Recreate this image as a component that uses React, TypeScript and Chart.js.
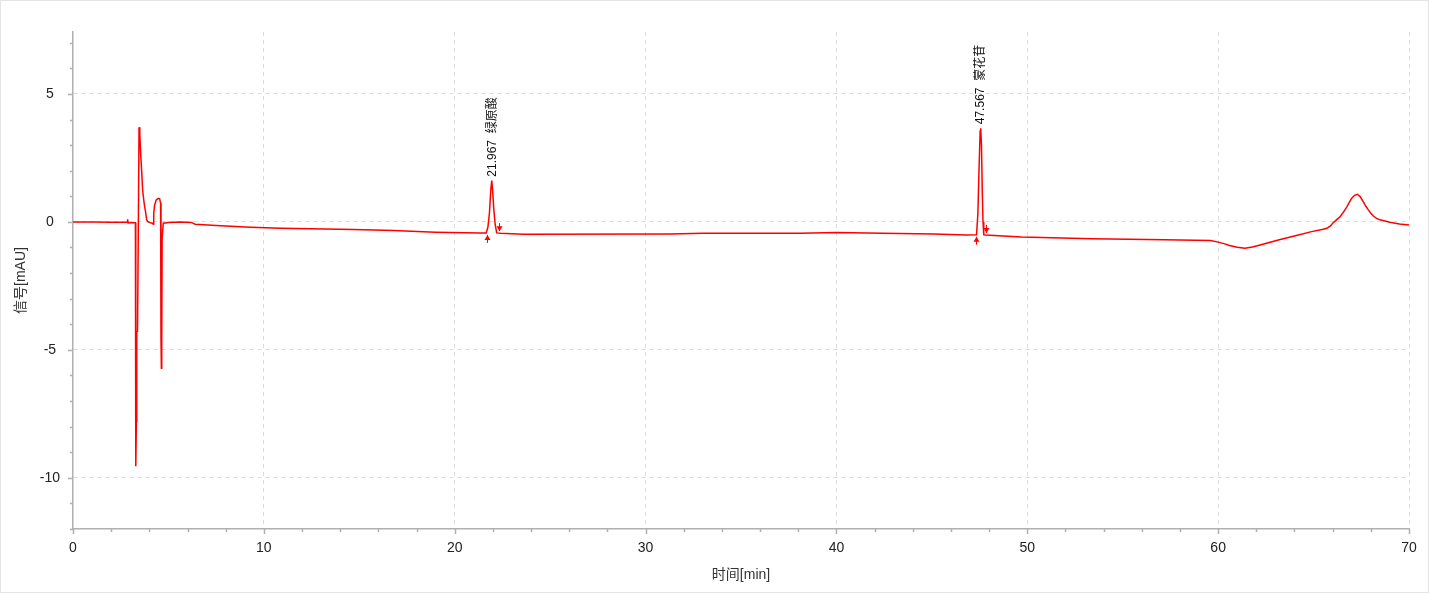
import React, { useEffect, useRef } from 'react';
import { Chart, registerables } from 'chart.js';

Chart.register(...registerables);

// Chromatogram trace (time in min, signal in mAU)
const timeMin = [
  0, 1.0, 2.0, 2.84, 2.86, 2.89, 3.0, 3.27, 3.28, 3.3, 3.32, 3.34, 3.38, 3.42, 3.46, 3.5, 3.55, 3.6, 3.65, 3.7,
  3.74, 3.8, 3.86, 3.92, 4.05, 4.16, 4.2, 4.23, 4.28, 4.36, 4.46, 4.54, 4.59, 4.61, 4.63, 4.65, 4.67, 4.73, 5.0, 5.6,
  6.2, 6.4, 7.5, 9.3, 10.9, 14.7, 16.8, 19.0, 21.3, 21.65, 21.74, 21.82, 21.89, 21.94, 21.99, 22.05, 22.12, 22.2, 22.4, 23.6,
  31.3, 33.0, 38.1, 40.0, 42.4, 45.1, 46.8, 47.34, 47.41, 47.47, 47.53, 47.56, 47.6, 47.64, 47.68, 47.72, 47.8, 49.7, 51.8, 53.4,
  57.2, 59.6, 60.0, 60.3, 60.6, 61.0, 61.4, 61.8, 62.2, 63.2, 64.1, 64.9, 65.5, 65.7, 65.9, 66.0, 66.2, 66.4, 66.6, 66.75,
  66.9, 67.0, 67.15, 67.29, 67.45, 67.6, 67.75, 67.87, 68.0, 68.13, 68.3, 68.48, 69.0, 69.5, 70.0,
];
const signalMAU = [
  0.0, 0.0, -0.01, -0.01, 0.1, -0.04, -0.03, -0.03, -7.8, -9.55, -7.8, -4.3, -4.28, -0.5, 3.7, 3.42, 2.6, 1.96, 1.22, 0.9,
  0.66, 0.4, 0.08, 0.01, -0.03, -0.05, -0.09, 0.34, 0.66, 0.86, 0.92, 0.9, 0.73, -4.48, -5.72, -4.48, -0.63, -0.05, -0.02, 0.0,
  -0.02, -0.09, -0.14, -0.21, -0.25, -0.3, -0.34, -0.4, -0.43, -0.43, -0.2, 0.35, 1.25, 1.61, 1.2, 0.47, -0.1, -0.43, -0.44, -0.48,
  -0.47, -0.44, -0.44, -0.41, -0.44, -0.47, -0.51, -0.5, 0.3, 2.0, 3.55, 3.66, 3.0, 1.25, 0.0, -0.5, -0.51, -0.59, -0.63, -0.66,
  -0.7, -0.73, -0.79, -0.85, -0.92, -0.99, -1.03, -0.98, -0.9, -0.7, -0.53, -0.38, -0.29, -0.25, -0.15, -0.05, 0.08, 0.21, 0.42, 0.6,
  0.8, 0.93, 1.04, 1.08, 0.98, 0.79, 0.6, 0.47, 0.34, 0.23, 0.14, 0.08, -0.01, -0.08, -0.12,
];

// Identified peaks
const peakTimes = [21.967, 47.567];
const peakHeights = [1.61, 3.66];
const peakNames = ['绿原酸', '蒙花苷'];

// Integration start/end markers
const markerTimes = [21.67, 22.33, 47.29, 47.83];
const markerSignals = [-0.43, -0.44, -0.5, -0.51];
const markerDirs = ['up', 'down', 'up', 'down'];

// Axis ticks
const xTicks = [0, 2, 4, 6, 8, 10, 12, 14, 16, 18, 20, 22, 24, 26, 28, 30, 32, 34, 36, 38, 40, 42, 44, 46, 48, 50, 52, 54, 56, 58, 60, 62, 64, 66, 68, 70];
const xMajorTicks = [0, 10, 20, 30, 40, 50, 60, 70];
const yTicks = [-12, -11, -10, -9, -8, -7, -6, -5, -4, -3, -2, -1, 0, 1, 2, 3, 4, 5, 6, 7];
const yMajorTicks = [-10, -5, 0, 5];

const xTitle = '时间[min]';
const yTitle = '信号[mAU]';

const FONT = '"Liberation Sans", Arial, "Noto Sans CJK SC", sans-serif';

const decorPlugin = {
  id: 'decor',
  afterDraw(chart: any) {
    const { ctx, chartArea, scales } = chart;
    const xs = scales.x;
    const ys = scales.y;
    ctx.save();
    // tick marks
    ctx.strokeStyle = '#b0b0b0';
    ctx.lineWidth = 1.5;
    ctx.beginPath();
    xTicks.forEach((v) => {
      const px = Math.round(xs.getPixelForValue(v)) + 0.5;
      const len = xMajorTicks.includes(v) ? 5 : 3;
      ctx.moveTo(px, chartArea.bottom);
      ctx.lineTo(px, chartArea.bottom + len);
    });
    yTicks.forEach((v) => {
      const py = Math.round(ys.getPixelForValue(v)) + 0.5;
      const len = yMajorTicks.includes(v) ? 5 : 3;
      ctx.moveTo(chartArea.left, py);
      ctx.lineTo(chartArea.left - len, py);
    });
    ctx.stroke();

    // peak labels
    ctx.fillStyle = '#111';
    ctx.font = '12px ' + FONT;
    ctx.textAlign = 'left';
    ctx.textBaseline = 'middle';
    peakTimes.forEach((t, i) => {
      const px = xs.getPixelForValue(t);
      const py = ys.getPixelForValue(peakHeights[i]) - 4;
      ctx.save();
      ctx.translate(px, py);
      ctx.rotate(-Math.PI / 2);
      ctx.fillText(t.toFixed(3) + '  ' + peakNames[i], 0, 0);
      ctx.restore();
    });

    // markers
    ctx.strokeStyle = '#ff0000';
    ctx.fillStyle = '#ff0000';
    ctx.lineWidth = 1;
    markerTimes.forEach((t, i) => {
      const px = Math.round(xs.getPixelForValue(t)) + 0.5;
      const py = ys.getPixelForValue(markerSignals[i]);
      const dir = markerDirs[i] === 'up' ? 1 : -1;
      const tip = py + dir * 2;
      const tail = py + dir * 10;
      ctx.beginPath();
      ctx.moveTo(px, tip);
      ctx.lineTo(px, tail);
      ctx.stroke();
      ctx.beginPath();
      ctx.moveTo(px, tip);
      ctx.lineTo(px - 3, tip + dir * 5);
      ctx.lineTo(px + 3, tip + dir * 5);
      ctx.closePath();
      ctx.fill();
    });

    // axis titles
    ctx.fillStyle = '#333';
    ctx.font = '14px ' + FONT;
    ctx.textAlign = 'center';
    ctx.textBaseline = 'middle';
    ctx.fillText(xTitle, (chartArea.left + chartArea.right) / 2, 574);
    ctx.save();
    ctx.translate(20, (chartArea.top + chartArea.bottom) / 2);
    ctx.rotate(-Math.PI / 2);
    ctx.fillText(yTitle, 0, 0);
    ctx.restore();
    ctx.restore();
  },
};

export default function App() {
  const ref = useRef<HTMLCanvasElement>(null);
  useEffect(() => {
    if (!ref.current) return;
    const chart = new Chart(ref.current, {
      type: 'line',
      data: {
        datasets: [
          {
            data: timeMin.map((t, i) => ({ x: t, y: signalMAU[i] })),
            borderColor: '#ff0000',
            borderWidth: 1.5,
            pointRadius: 0,
            tension: 0,
            fill: false,
          },
        ],
      },
      options: {
        responsive: false,
        animation: false,
        layout: { padding: { top: 31, right: 19, left: 0, bottom: 0 } },
        plugins: { legend: { display: false }, tooltip: { enabled: false } },
        scales: {
          x: {
            type: 'linear',
            min: 0,
            max: 70,
            afterBuildTicks: (s: any) => {
              s.ticks = xTicks.map((v) => ({ value: v }));
            },
            afterFit: (s: any) => {
              s.height = 63;
            },
            ticks: {
              autoSkip: false,
              maxRotation: 0,
              padding: 11,
              color: '#222',
              font: { size: 14, family: FONT },
              callback: (v: any) => (xMajorTicks.includes(v) ? String(v) : ''),
            },
            grid: {
              drawTicks: false,
              color: (c: any) => (c.tick && xMajorTicks.includes(c.tick.value) && c.tick.value !== 0 ? '#dcdcdc' : 'transparent'),
              lineWidth: 1,
            },
            border: { color: '#b0b0b0', width: 1.5, dash: [4, 4] },
          },
          y: {
            type: 'linear',
            min: -12,
            max: 7.42,
            afterBuildTicks: (s: any) => {
              s.ticks = yTicks.map((v) => ({ value: v }));
            },
            afterFit: (s: any) => {
              s.width = 72;
            },
            ticks: {
              autoSkip: false,
              crossAlign: 'center',
              padding: 13,
              color: '#222',
              font: { size: 14, family: FONT },
              callback: (v: any) => (yMajorTicks.includes(v) ? String(v) : ''),
            },
            grid: {
              drawTicks: false,
              color: (c: any) => (c.tick && yMajorTicks.includes(c.tick.value) ? '#dcdcdc' : 'transparent'),
              lineWidth: 1,
            },
            border: { color: '#b0b0b0', width: 1.5, dash: [4, 4] },
          },
        },
      },
      plugins: [decorPlugin],
    });
    return () => chart.destroy();
  }, []);

  return (
    <div
      style={{
        position: 'fixed',
        left: 0,
        top: 0,
        width: 1429,
        height: 593,
        boxSizing: 'border-box',
        border: '1px solid #e4e4e4',
        background: '#fff',
      }}
    >
      <canvas ref={ref} width={1427} height={591} style={{ display: 'block', width: 1427, height: 591 }} />
    </div>
  );
}
